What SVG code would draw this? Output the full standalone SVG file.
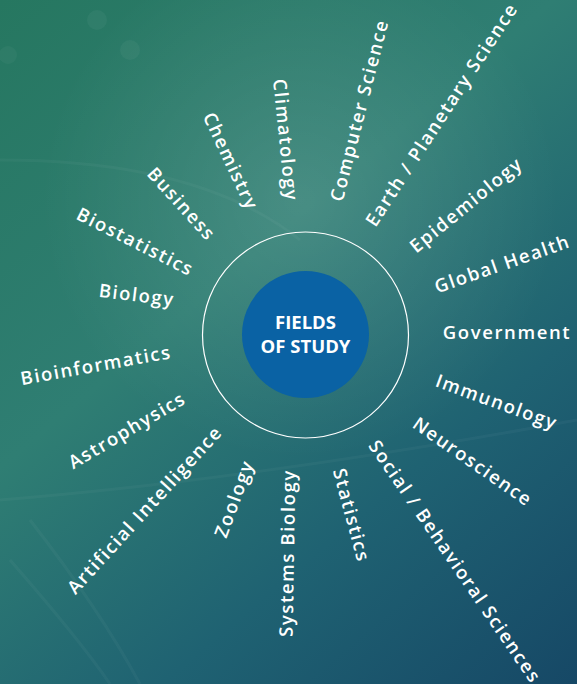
<svg xmlns="http://www.w3.org/2000/svg" width="577" height="684" viewBox="0 0 577 684">
<defs>
<linearGradient id="bg" x1="0" y1="0" x2="577" y2="684" gradientUnits="userSpaceOnUse">
<stop offset="0" stop-color="#267760"/>
<stop offset="0.4" stop-color="#2f7e73"/>
<stop offset="0.7" stop-color="#1f6272"/>
<stop offset="1" stop-color="#164866"/>
</linearGradient>
<radialGradient id="glow" cx="300" cy="200" r="260" gradientUnits="userSpaceOnUse">
<stop offset="0" stop-color="#ffffff" stop-opacity="0.12"/>
<stop offset="1" stop-color="#ffffff" stop-opacity="0"/>
</radialGradient>
<style>
.lbl{font-family:"Open Sans","Liberation Sans",sans-serif;font-size:18.5px;font-weight:600;fill:#ffffff;text-anchor:middle;dominant-baseline:central;letter-spacing:1.6px}
.ctr{font-family:"Open Sans","Liberation Sans",sans-serif;font-size:18.5px;font-weight:700;fill:#ffffff;text-anchor:middle}
.streak{fill:none;stroke:#ffffff;stroke-opacity:0.035;stroke-width:3}
</style>
</defs>
<rect width="577" height="684" fill="url(#bg)"/>
<rect width="577" height="684" fill="url(#glow)"/>
<path class="streak" d="M0 160 Q200 160 300 240"/>
<path class="streak" d="M0 500 Q250 480 577 420"/>
<path class="streak" d="M10 560 Q80 640 110 684"/>
<path class="streak" d="M30 520 Q100 610 140 684"/>
<circle cx="97" cy="20" r="10" fill="#ffffff" fill-opacity="0.04"/>
<circle cx="130" cy="50" r="10" fill="#ffffff" fill-opacity="0.04"/>
<circle cx="8" cy="55" r="9" fill="#ffffff" fill-opacity="0.035"/>

<g id="center">
<circle cx="305.5" cy="335" r="103" fill="none" stroke="#ffffff" stroke-width="1.2"/>
<circle cx="305.5" cy="334.5" r="63.5" fill="#0a62a4"/>
<text class="ctr" x="305.5" y="329">FIELDS</text>
<text class="ctr" x="305.5" y="352.5">OF STUDY</text>
</g>

<g id="computer-science"><text class="lbl" transform="translate(358.3,110) rotate(-75.7)">Computer Science</text></g>
<g id="earth-planetary-science"><text class="lbl" transform="translate(440.8,114) rotate(-56.9)">Earth / Planetary Science</text></g>
<g id="epidemiology"><text class="lbl" transform="translate(465.5,204) rotate(-39.2)">Epidemiology</text></g>
<g id="global-health"><text class="lbl" transform="translate(502,263) rotate(-19.2)">Global Health</text></g>
<g id="government"><text class="lbl" transform="translate(507,331.5)">Government</text></g>
<g id="immunology"><text class="lbl" transform="translate(497,401) rotate(20)">Immunology</text></g>
<g id="neuroscience"><text class="lbl" transform="translate(473.3,460.8) rotate(34.8)">Neuroscience</text></g>
<g id="social-behavioral-sciences"><text class="lbl" transform="translate(455.8,561) rotate(55.6)">Social / Behavioral Sciences</text></g>
<g id="statistics"><text class="lbl" transform="translate(352.5,515) rotate(74.8)">Statistics</text></g>
<g id="systems-biology"><text class="lbl" transform="translate(286.5,553) rotate(-89)">Systems Biology</text></g>
<g id="zoology"><text class="lbl" transform="translate(233.3,498.3) rotate(-69.8)">Zoology</text></g>
<g id="artificial-intelligence"><text class="lbl" transform="translate(144,509) rotate(-47.6)">Artificial Intelligence</text></g>
<g id="astrophysics"><text class="lbl" transform="translate(126.5,429.5) rotate(-30.5)">Astrophysics</text></g>
<g id="bioinformatics"><text class="lbl" transform="translate(95.8,364.2) rotate(-10.2)">Bioinformatics</text></g>
<g id="biology"><text class="lbl" transform="translate(137,294) rotate(7)">Biology</text></g>
<g id="biostatistics"><text class="lbl" transform="translate(135.8,240.8) rotate(26.9)">Biostatistics</text></g>
<g id="business"><text class="lbl" transform="translate(182.3,203.3) rotate(47.8)">Business</text></g>
<g id="chemistry"><text class="lbl" transform="translate(231.7,160.8) rotate(64.9)">Chemistry</text></g>
<g id="climatology"><text class="lbl" transform="translate(286.7,140) rotate(84.3)">Climatology</text></g>
</svg>
